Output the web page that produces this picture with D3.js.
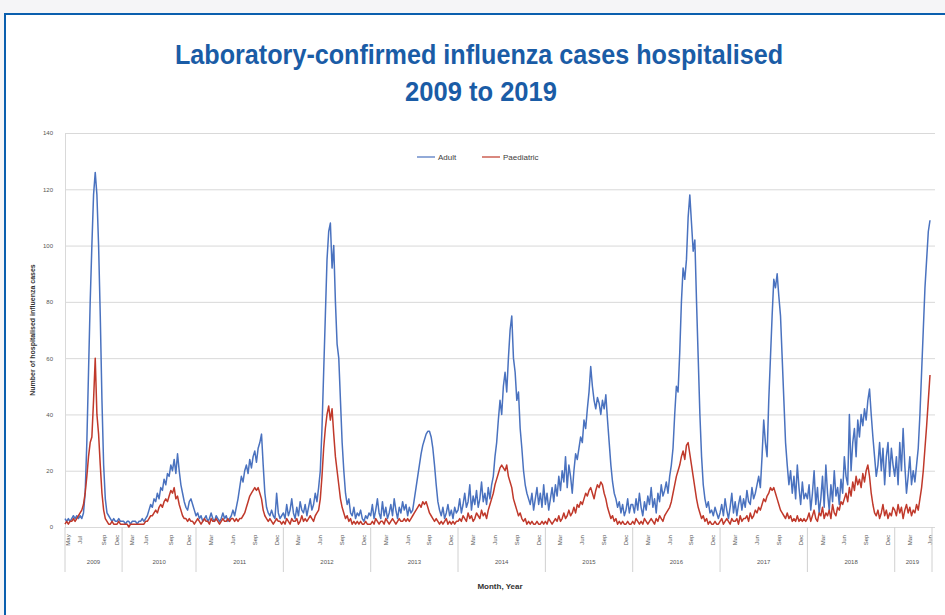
<!DOCTYPE html>
<html>
<head>
<meta charset="utf-8">
<script src="https://cdn.jsdelivr.net/npm/d3@7"></script>
<style>
  html, body { margin: 0; padding: 0; background: #f5f5f7; }
  svg { display: block; }
</style>
</head>
<body>
<svg id="chart" width="945" height="615"></svg>
<script>
// Weekly counts, one sub-array per year (2009 starts in May, 2010 is short, 2019 ends in May)
const years = [2009, 2010, 2011, 2012, 2013, 2014, 2015, 2016, 2017, 2018, 2019];

const adult = [
  [3,2,3,2,3,4,3,4,3,4,3,5,12,30,55,80,100,118,126,118,100,75,45,22,10,5,4,3,2,3,2,2,3,2],
  [2,2,1,2,2,1,2,2,2,1,2,2,3,2,3,4,6,8,7,10,9,12,10,14,13,17,15,19,18,22,20,24,19,26,20,15,12,9,7,6,9,10,8,6],
  [4,5,3,4,2,3,4,2,3,5,3,2,4,3,2,3,5,3,4,2,3,4,6,4,7,10,14,18,16,20,22,19,24,21,25,27,23,28,30,33,22,12,7,5,4,6,4,3,12,5,3,4],
  [5,3,8,4,6,10,5,3,7,4,9,6,5,8,4,7,10,6,8,12,9,14,20,35,55,75,95,105,108,92,100,80,65,60,45,30,20,12,8,10,5,4,7,3,5,4,6,3,2,4,3,5],
  [4,8,3,6,10,5,3,9,4,7,3,5,8,4,10,6,3,7,5,9,6,8,4,7,5,6,10,14,18,22,26,29,31,33,34,34,32,28,22,15,9,6,4,7,3,5,8,4,6,3,7,5],
  [6,10,5,8,12,7,9,15,6,11,8,13,7,10,16,9,12,8,14,10,15,18,25,30,38,45,40,50,55,48,60,70,75,60,55,45,48,35,28,20,15,12,10,8,12,6,10,14,8,12,7,15],
  [8,12,6,10,14,9,15,11,18,13,20,16,25,14,22,18,12,20,26,24,28,32,30,38,35,42,48,57,50,45,42,46,44,40,45,42,47,38,30,22,16,12,10,7,9,5,8,4,6,10,5,8],
  [8,5,10,6,12,7,4,9,6,11,8,14,7,10,5,12,9,15,11,13,16,12,18,22,28,40,50,48,62,80,92,88,95,110,118,108,98,102,80,60,40,25,15,10,7,9,5,6,4,7,5,3],
  [5,8,4,10,6,3,7,12,5,9,4,8,11,6,10,7,13,9,8,14,10,12,15,18,14,25,38,30,25,45,60,75,88,85,90,82,75,60,45,30,22,15,20,12,18,10,22,14,8,16,10,12],
  [10,15,6,12,20,8,14,5,10,18,7,22,12,6,15,9,20,11,14,8,17,12,25,18,15,40,20,30,35,25,38,32,40,36,42,38,45,49,40,32,25,18,22,30,20,28,15,25,30,18,28,22],
  [18,25,15,30,20,35,22,12,18,25,15,20,16,22,28,40,55,70,85,95,105,109]
];

const paediatric = [
  [1,2,1,2,2,3,2,3,4,5,6,8,12,18,25,30,32,45,60,40,33,22,12,6,3,2,1,1,2,1,1,1,2,1],
  [1,1,1,1,0,1,1,1,1,1,1,1,1,1,2,2,3,4,4,5,6,5,7,8,7,9,10,9,11,13,12,14,10,11,8,6,4,3,3,2,3,2,2,1],
  [2,3,2,1,2,3,2,2,1,3,2,2,3,2,1,2,3,2,2,3,2,3,3,2,3,2,3,3,4,5,7,9,11,12,13,14,13,14,12,10,6,4,3,2,3,2,1,2,3,2,2,1],
  [2,1,3,2,1,3,2,2,3,1,2,4,2,3,2,3,4,3,2,4,5,6,10,18,28,35,40,43,38,42,33,25,20,15,10,7,5,3,4,2,3,1,2,1,2,1,2,1,1,2,1,1],
  [1,2,1,3,2,1,2,2,1,3,2,1,2,3,2,1,2,3,2,2,3,2,3,2,3,4,5,6,7,8,7,9,8,9,7,5,4,3,2,3,2,1,2,1,2,3,1,2,1,2,1,2],
  [2,3,2,4,3,2,5,3,4,2,3,5,4,3,6,4,5,3,6,8,10,12,15,17,19,21,22,21,20,22,18,16,14,10,8,6,4,5,3,2,3,1,2,1,2,1,1,2,1,1,2,1],
  [2,1,3,2,1,2,3,2,4,2,3,5,3,4,6,4,5,7,5,8,7,9,8,10,12,11,13,14,12,10,13,15,14,16,15,12,10,7,5,3,4,2,3,1,2,1,2,1,1,2,1,1],
  [2,1,3,2,1,2,1,3,2,1,2,3,2,1,3,2,4,3,2,4,5,6,7,9,12,15,18,20,22,25,27,24,29,30,26,22,18,14,10,7,5,3,4,2,3,1,2,1,1,2,1,1],
  [2,3,1,2,3,2,1,3,2,2,3,1,4,2,3,3,4,2,5,3,4,6,5,7,6,8,10,9,11,12,14,13,14,12,10,8,6,5,4,3,5,3,4,2,3,2,4,2,3,2,3,2],
  [3,5,2,4,6,3,2,5,4,7,3,5,4,6,3,8,5,4,7,6,9,8,10,12,9,14,11,16,13,18,15,17,14,19,16,20,22,18,12,8,5,4,6,3,5,8,4,6,3,5,4,7],
  [6,4,8,5,7,3,6,8,5,7,4,6,5,8,6,10,14,20,28,36,45,54]
];

const yTicks = [0, 20, 40, 60, 80, 100, 120, 140];

// [year, week within that year's data, label]
const monthTicks = [
  [2009, 2, "May"], [2009, 9, "Jul"], [2009, 23, "Sep"], [2009, 31, "Dec"],
  [2010, 6, "Mar"], [2010, 14, "Jun"], [2010, 29, "Sep"], [2010, 40, "Dec"],
  ...[2011, 2012, 2013, 2014, 2015, 2016, 2017, 2018].flatMap(y =>
    [[y, 9, "Mar"], [y, 22, "Jun"], [y, 35, "Sep"], [y, 48, "Dec"]]),
  [2019, 9, "Mar"], [2019, 21, "Jun"]
];

const seriesNames = ["Adult", "Paediatric"];
const seriesColors = ["#4a72bf", "#c0392b"];

// ---- build flat series with a running index ----
const yearStart = [];
let n = 0;
years.forEach((y, i) => { yearStart.push(n); n += adult[i].length; });
const total = n;

const flat = arr => arr.flatMap((vals, i) => vals.map((v, j) => ({ idx: yearStart[i] + j, value: v })));
const series = [flat(adult), flat(paediatric)];

const svg = d3.select("#chart");

// panel with blue border
svg.append("rect").attr("x", 5).attr("y", 14).attr("width", 945).attr("height", 620)
  .attr("fill", "#fff").attr("stroke", "#0a5fae").attr("stroke-width", 2);

// title (condensed bold, squeezed to the reference width)
const title = svg.append("text")
  .attr("x", 479).attr("y", 64)
  .attr("text-anchor", "middle")
  .attr("fill", "#1a5ca6")
  .style("font-family", "'Liberation Sans Narrow', 'Arial Narrow', 'Liberation Sans', sans-serif")
  .style("font-weight", "bold")
  .style("font-size", "28px");
title.append("tspan").attr("x", 479)
  .attr("textLength", 608).attr("lengthAdjust", "spacingAndGlyphs")
  .text("Laboratory-confirmed influenza cases hospitalised");
title.append("tspan").attr("x", 481).attr("dy", 37)
  .attr("textLength", 152).attr("lengthAdjust", "spacingAndGlyphs")
  .text("2009 to 2019");

const plotLeft = 65, plotRight = 930, plotTop = 133, plotBottom = 527;

const x = d3.scaleLinear().domain([0, total - 1]).range([plotLeft, plotRight]);
const y = d3.scaleLinear().domain([0, 140]).range([plotBottom, plotTop]);

const font = "'Liberation Sans', Arial, sans-serif";

// gridlines
const grid = svg.append("g")
  .attr("transform", `translate(${plotLeft},0)`)
  .call(d3.axisLeft(y).tickValues(yTicks).tickSize(-(plotRight + 5 - plotLeft)).tickFormat(""));
grid.selectAll("line").attr("stroke", "#d9d9d9");
grid.select(".domain").remove();

// y axis labels
const yAxis = svg.append("g")
  .attr("transform", `translate(${plotLeft},0)`)
  .call(d3.axisLeft(y).tickValues(yTicks).tickSize(0).tickPadding(12));
yAxis.select(".domain").attr("stroke", "#d9d9d9");
yAxis.selectAll("text").style("font-family", font).style("font-size", "6px").attr("fill", "#555");

// y axis title
svg.append("text")
  .attr("transform", `translate(35,${(plotTop + plotBottom) / 2}) rotate(-90)`)
  .attr("text-anchor", "middle")
  .style("font-family", font).style("font-size", "7px").style("font-weight", "bold")
  .attr("fill", "#333")
  .text("Number of hospitalised influenza cases");

// x axis: month labels
const xAxis = svg.append("g");
monthTicks.forEach(([yr, wk, lab]) => {
  const xi = x(yearStart[years.indexOf(yr)] + wk);
  xAxis.append("text")
    .attr("transform", `translate(${xi + 2},540) rotate(-90)`)
    .attr("text-anchor", "middle")
    .style("font-family", font).style("font-size", "6px")
    .attr("fill", "#555")
    .text(lab);
});

// year separators and year labels
const bounds = yearStart.concat([total]);
bounds.forEach((b, i) => {
  const bx = i === bounds.length - 1 ? plotRight + 2 : x(b);
  xAxis.append("line")
    .attr("x1", bx).attr("x2", bx).attr("y1", plotBottom).attr("y2", 572)
    .attr("stroke", "#d0d0d0");
});
years.forEach((yr, i) => {
  const x0 = x(bounds[i]), x1 = i === years.length - 1 ? plotRight : x(bounds[i + 1]);
  xAxis.append("text")
    .attr("x", (x0 + x1) / 2).attr("y", 564)
    .attr("text-anchor", "middle")
    .style("font-family", font).style("font-size", "6px")
    .attr("fill", "#555")
    .text(yr);
});

svg.append("text")
  .attr("x", 500).attr("y", 589)
  .attr("text-anchor", "middle")
  .style("font-family", font).style("font-size", "8px").style("font-weight", "bold")
  .attr("fill", "#333")
  .text("Month, Year");

// lines
const line = d3.line().x(d => x(d.idx)).y(d => y(d.value));
series.forEach((s, i) => {
  svg.append("path")
    .datum(s)
    .attr("fill", "none")
    .attr("stroke", seriesColors[i])
    .attr("stroke-width", 1.5)
    .attr("stroke-linejoin", "round")
    .attr("d", line);
});

// legend
const legend = svg.append("g").attr("transform", "translate(417,157)");
let lx = 0;
seriesNames.forEach((name, i) => {
  legend.append("line").attr("x1", lx).attr("x2", lx + 18).attr("y1", 0).attr("y2", 0)
    .attr("stroke", seriesColors[i]).attr("stroke-width", 1.2);
  legend.append("text").attr("x", lx + 21).attr("y", 3)
    .style("font-family", font).style("font-size", "8px")
    .attr("fill", "#404040")
    .text(name);
  lx += 65;
});
</script>
</body>
</html>
